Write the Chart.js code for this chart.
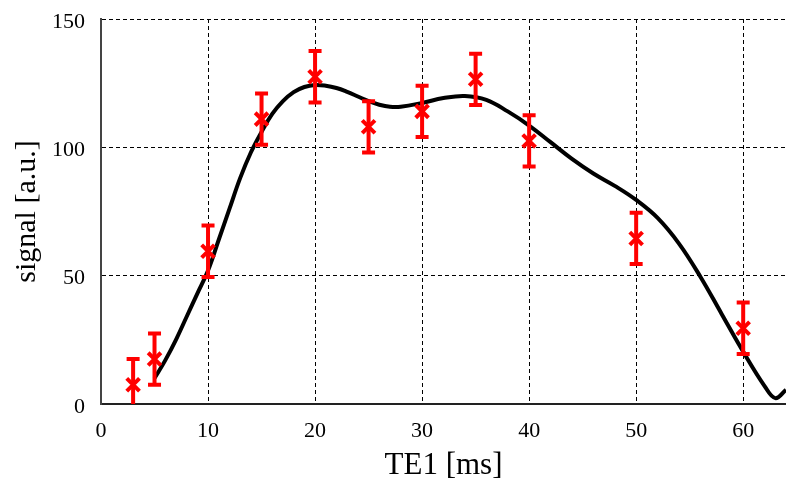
<!DOCTYPE html>
<html>
<head>
<meta charset="utf-8">
<script src="https://cdn.jsdelivr.net/npm/chart.js@4/dist/chart.umd.min.js"></script>
<style>
  html, body { margin: 0; padding: 0; background: #fff; }
  #wrap { width: 786px; height: 479px; }
</style>
</head>
<body>
<div id="wrap"><canvas id="signalChart" width="786" height="479"></canvas></div>
<script>
// measured points (TE1 in ms, signal) with symmetric error
var te1 = [3, 5, 10, 15, 20, 25, 30, 35, 40, 50, 60];
var signal = [7.5, 17.5, 59.5, 111, 127.5, 108, 114, 126.5, 102.5, 64.5, 29.5];
var signalErr = [10, 10, 10, 10, 10, 10, 10, 10, 10, 10, 10];

// fitted curve
var fitX = [5, 6, 7, 8, 9, 10, 11, 12, 13, 14, 15, 16, 17, 18, 19, 20, 21, 22, 23, 24, 25, 26, 27, 28, 30, 32, 34, 36, 38, 40, 42, 44, 46, 48, 50, 52, 54, 56, 58, 60, 62, 63, 64];
var fitY = [10, 17, 25, 34, 43, 52, 64, 76, 88, 98, 106, 113, 118, 121.5, 123.5, 124.3, 124, 123.1, 121.6, 119.8, 118, 116.6, 115.8, 115.8, 117.3, 119.2, 120, 118.5, 114, 108.5, 102, 95.5, 89.8, 85, 79.5, 72.5, 62.5, 49.6, 35, 20.4, 7, 2.3, 5.5];

var xTicks = [0, 10, 20, 30, 40, 50, 60];
var yTicks = [0, 50, 100, 150];

var ctxEl = document.getElementById("signalChart");

var errorBars = {
    id: 'errorBars',
    afterDatasetsDraw: function (chart) {
        var xs = chart.scales.x, ys = chart.scales.y, ctx = chart.ctx, area = chart.chartArea;
        ctx.save();
        ctx.beginPath();
        ctx.rect(area.left, area.top, area.right - area.left, area.bottom - area.top);
        ctx.clip();
        ctx.strokeStyle = '#ff0000';
        ctx.lineWidth = 4;
        for (var i = 0; i < te1.length; i++) {
            var px = xs.getPixelForValue(te1[i]);
            var top = ys.getPixelForValue(signal[i] + signalErr[i]);
            var bot = ys.getPixelForValue(signal[i] - signalErr[i]);
            ctx.beginPath();
            ctx.moveTo(px, top); ctx.lineTo(px, bot);
            ctx.moveTo(px - 6.5, top); ctx.lineTo(px + 6.5, top);
            ctx.moveTo(px - 6.5, bot); ctx.lineTo(px + 6.5, bot);
            ctx.stroke();
        }
        ctx.restore();
    }
};

var fitPoints = fitX.map(function (x, i) { return { x: x, y: fitY[i] }; });
var measPoints = te1.map(function (x, i) { return { x: x, y: signal[i] }; });

var font = "'Liberation Serif', 'DejaVu Serif', serif";

new Chart(ctxEl, {
    type: 'scatter',
    data: {
        datasets: [
            {
                label: 'fit',
                data: fitPoints,
                showLine: true,
                borderColor: '#000',
                borderWidth: 4,
                pointRadius: 0,
                tension: 0.4,
                order: 2
            },
            {
                label: 'signal',
                data: measPoints,
                pointStyle: 'crossRot',
                pointRadius: 9,
                borderColor: '#ff0000',
                backgroundColor: '#ff0000',
                pointBorderWidth: 4,
                order: 1
            }
        ]
    },
    options: {
        responsive: false,
        animation: false,
        layout: { autoPadding: false, padding: { left: 0, right: 0, top: 19, bottom: 0 } },
        plugins: {
            legend: { display: false },
            tooltip: { enabled: false }
        },
        scales: {
            x: {
                type: 'linear',
                min: 0,
                max: 64,
                afterBuildTicks: function (axis) { axis.ticks = xTicks.map(function (v) { return { value: v }; }); },
                afterFit: function (axis) { axis.height = 75; axis.paddingLeft = 0; axis.paddingRight = 0; },
                ticks: { color: '#000', font: { family: font, size: 22 }, padding: 14, maxRotation: 0 },
                grid: { color: '#000', lineWidth: 1, drawTicks: false, tickLength: 0 },
                border: { display: true, color: '#222', width: 2, dash: [4, 3] },
                title: { display: true, text: 'TE1 [ms]', color: '#000', font: { family: font, size: 31 }, padding: { top: 0, bottom: -5 } }
            },
            y: {
                min: 0,
                max: 150,
                afterBuildTicks: function (axis) { axis.ticks = yTicks.map(function (v) { return { value: v }; }); },
                afterFit: function (axis) { axis.width = 101; axis.paddingTop = 0; axis.paddingBottom = 0; },
                ticks: { color: '#000', font: { family: font, size: 22 }, padding: 16, labelOffset: 3 },
                grid: { color: '#000', lineWidth: 1, drawTicks: false, tickLength: 0 },
                border: { display: true, color: '#444', width: 2, dash: [4, 3] },
                title: { display: true, text: 'signal [a.u.]', color: '#000', font: { family: font, size: 30 }, padding: { top: 9, bottom: 0 } }
            }
        }
    },
    plugins: [errorBars]
});
</script>
</body>
</html>
